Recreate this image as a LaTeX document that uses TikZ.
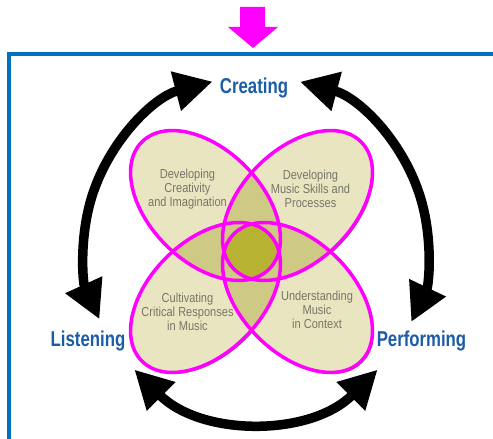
\documentclass[tikz,border=0pt]{standalone}
\usepackage{fontspec}
\usetikzlibrary{arrows.meta}
\newfontfamily\petalfont[FakeStretch=0.85]{Liberation Sans}
\newfontfamily\stagefont[FakeStretch=0.78]{Liberation Sans}
\definecolor{frameblue}{RGB}{0,112,192}
\definecolor{stageblue}{RGB}{27,92,166}
\definecolor{pink}{RGB}{255,0,255}
\definecolor{onefold}{RGB}{233,229,192}
\definecolor{twofold}{RGB}{206,201,132}
\definecolor{fourfold}{RGB}{183,180,52}
\definecolor{petalgray}{RGB}{118,118,104}
\tikzset{
  leaf/.style={x radius=90,y radius=56},
  cycle arrow/.style={line width=9.5pt,{Triangle[length=38pt,width=38pt]}-{Triangle[length=38pt,width=38pt]}},
  petaltext/.style={font=\petalfont\fontsize{13}{14}\selectfont,text=petalgray,align=center},
  stage/.style={font=\stagefont\bfseries\fontsize{21.5}{24}\selectfont,text=stageblue,anchor=base}
}
% centre x / centre y / tilt of the four petals
\def\petals{205.5/233.5/-45,297.5/233.5/45,205.5/141.5/45,297.5/141.5/-45}
\begin{document}
\begin{tikzpicture}[x=1pt,y=1pt]
  \useasboundingbox (0,0) rectangle (493,439);
  % frame and the pointer above it
  \draw[frameblue,line width=4pt] (9,-20) -- (9,385) -- (520,385);
  \fill[pink] (240,432) -- (265,432) -- (265,412) -- (278,412) -- (253,391) -- (228,412) -- (240,412) -- cycle;
  % the three arrows of the cycle
  \coordinate (c) at (256,191);
  \draw[cycle arrow] ([shift={(104.6:172)}]c) arc[start angle=104.6,end angle=204.5,radius=172];
  \draw[cycle arrow] ([shift={(75.2:172)}]c) arc[start angle=75.2,end angle=-25.5,radius=172];
  \draw[cycle arrow] ([shift={(225:172)}]c) arc[start angle=225,end angle=315,radius=172];
  % petals: shadow, fill, overlaps, outline
  \foreach \x/\y/\t in \petals
    \fill[black!55,rotate around={\t:(\x+1.5,\y-1.5)}] (\x+1.5,\y-1.5) ellipse[leaf];
  \foreach \x/\y/\t in \petals
    \fill[onefold,rotate around={\t:(\x,\y)}] (\x,\y) ellipse[leaf];
  \foreach \xa/\ya/\ta [count=\i] in \petals {
    \foreach \xb/\yb/\tb [count=\j] in \petals {
      \ifnum\j>\i
        \begin{scope}
          \clip[rotate around={\ta:(\xa,\ya)}] (\xa,\ya) ellipse[leaf];
          \fill[twofold,rotate around={\tb:(\xb,\yb)}] (\xb,\yb) ellipse[leaf];
        \end{scope}
      \fi}}
  \begin{scope}
    \clip[rotate around={-45:(205.5,233.5)}] (205.5,233.5) ellipse[leaf];
    \clip[rotate around={45:(297.5,233.5)}] (297.5,233.5) ellipse[leaf];
    \clip[rotate around={45:(205.5,141.5)}] (205.5,141.5) ellipse[leaf];
    \fill[fourfold,rotate around={-45:(297.5,141.5)}] (297.5,141.5) ellipse[leaf];
  \end{scope}
  \foreach \x/\y/\t in \petals
    \draw[pink,line width=3.5pt,rotate around={\t:(\x,\y)}] (\x,\y) ellipse[leaf];
  % petal texts
  \node[petaltext] (creativity) at (187.5,250) {Developing\\Creativity\\and Imagination};
  \node[petaltext] (skills) at (310.5,250) {Developing\\Music Skills and\\Processes};
  \node[petaltext] (responses) at (187.5,127) {Cultivating\\Critical Responses\\in Music};
  \node[petaltext] (context) at (317,129) {Understanding\\Music\\in Context};
  % the three stages
  \node[stage] (creating) at (254,345.5) {Creating};
  \node[stage] (listening) at (88,92) {Listening};
  \node[stage] (performing) at (421.5,92) {Performing};
\end{tikzpicture}
\end{document}
